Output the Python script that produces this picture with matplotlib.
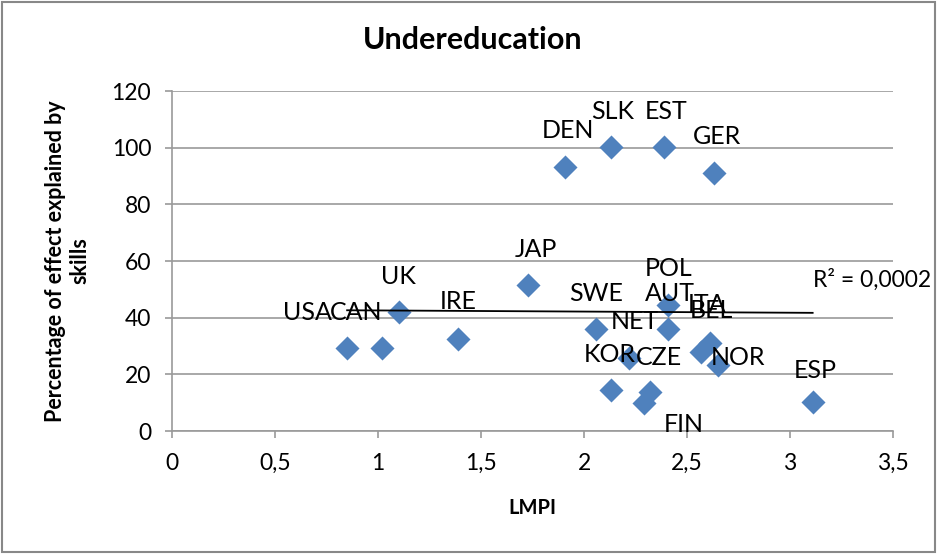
import numpy as np
import matplotlib
matplotlib.use('Agg')
import matplotlib.pyplot as plt
from matplotlib.patches import Rectangle

plt.rcParams['font.family'] = ['Lato', 'DejaVu Sans']

# LMPI vs percentage of effect explained by skills
countries = ['USA', 'CAN', 'UK', 'IRE', 'JAP', 'DEN', 'SLK', 'EST', 'GER', 'SWE',
             'POL', 'AUT', 'NET', 'KOR', 'CZE', 'FIN', 'ITA', 'BEL', 'NOR', 'ESP']
lmpi = [0.85, 1.02, 1.10, 1.39, 1.73, 1.91, 2.13, 2.39, 2.63, 2.06,
        2.41, 2.41, 2.22, 2.13, 2.32, 2.29, 2.61, 2.57, 2.65, 3.11]
pct_skills = [29.3, 29.3, 42.0, 32.5, 51.5, 93.2, 100.2, 100.2, 91.1, 36.0,
              44.5, 36.0, 25.8, 14.5, 13.8, 9.9, 31.1, 27.9, 23.3, 10.2]
x_ticks = [0, 0.5, 1, 1.5, 2, 2.5, 3, 3.5]
x_ticklabels = ['0', '0,5', '1', '1,5', '2', '2,5', '3', '3,5']
y_ticks = [0, 20, 40, 60, 80, 100, 120]
r2_label = 'R² = 0,0002'

# label offsets in pixels (dx, dy), as placed in the original chart
label_offset = {
    'USA': (-40, 35), 'CAN': (-26, 35), 'UK': (0, 36), 'IRE': (0, 37),
    'JAP': (8, 36), 'DEN': (2, 36), 'SLK': (2, 36), 'EST': (2, 36),
    'GER': (3, 36), 'SWE': (0, 36), 'POL': (0, 36), 'AUT': (1, 36),
    'NET': (5, 36), 'KOR': (-1, 35), 'CZE': (9, 34), 'FIN': (40, -22),
    'ITA': (-3, 38), 'BEL': (10, 41), 'NOR': (20, 7), 'ESP': (3, 32),
}

GRID = '#9a9a9a'

fig = plt.figure(figsize=(9.39, 5.56), dpi=100)
ax = fig.add_axes([0.1832, 0.2248, 0.7678, 0.6115])

ax.scatter(lmpi, pct_skills, marker='D', s=150, color='#4f81bd', zorder=3,
           linewidths=0)

# linear trend line over the data range
slope, icpt = np.polyfit(lmpi, pct_skills, 1)
xs = np.array([min(lmpi), max(lmpi)])
ax.plot(xs, slope * xs + icpt, color='black', lw=1.3, zorder=4)

for name, x, y in zip(countries, lmpi, pct_skills):
    dx, dy = label_offset[name]
    ax.annotate(name, (x, y), xytext=(dx, dy), textcoords='offset pixels',
                ha='center', va='center', fontsize=18, zorder=5)

ax.text(0.971, 0.444, r2_label, transform=ax.transAxes, ha='center',
        va='center', fontsize=16.5, clip_on=False)

ax.set_xlim(0, 3.5)
ax.set_ylim(0, 120)
ax.set_xticks(x_ticks)
ax.set_xticklabels(x_ticklabels)
ax.set_yticks(y_ticks)
ax.tick_params(axis='both', length=5, width=1.2, color=GRID, labelsize=16.5)
ax.tick_params(axis='x', pad=11)
ax.tick_params(axis='y', pad=10)
ax.grid(axis='y', color=GRID, lw=1.2)
ax.set_axisbelow(True)
for side in ['top', 'right']:
    ax.spines[side].set_visible(False)
for side in ['left', 'bottom']:
    ax.spines[side].set_color(GRID)
    ax.spines[side].set_linewidth(1.2)

fig.text(0.503, 0.928, 'Undereducation', ha='center', va='center',
         fontsize=22, fontweight='bold')
fig.text(0.5666, 0.0863, 'LMPI', ha='center', va='center',
         fontsize=14.5, fontweight='bold')
fig.text(0.0724, 0.5306, 'Percentage of effect explained by\nskills', ha='center',
         va='center', rotation=90, fontsize=15.5, fontweight='bold',
         multialignment='center', linespacing=1.2)

fig.patches.append(Rectangle((0.002, 0.007), 0.994, 0.99, transform=fig.transFigure,
                             fill=False, edgecolor='#888888', lw=1.5))

fig.savefig('out.png', dpi=100)
